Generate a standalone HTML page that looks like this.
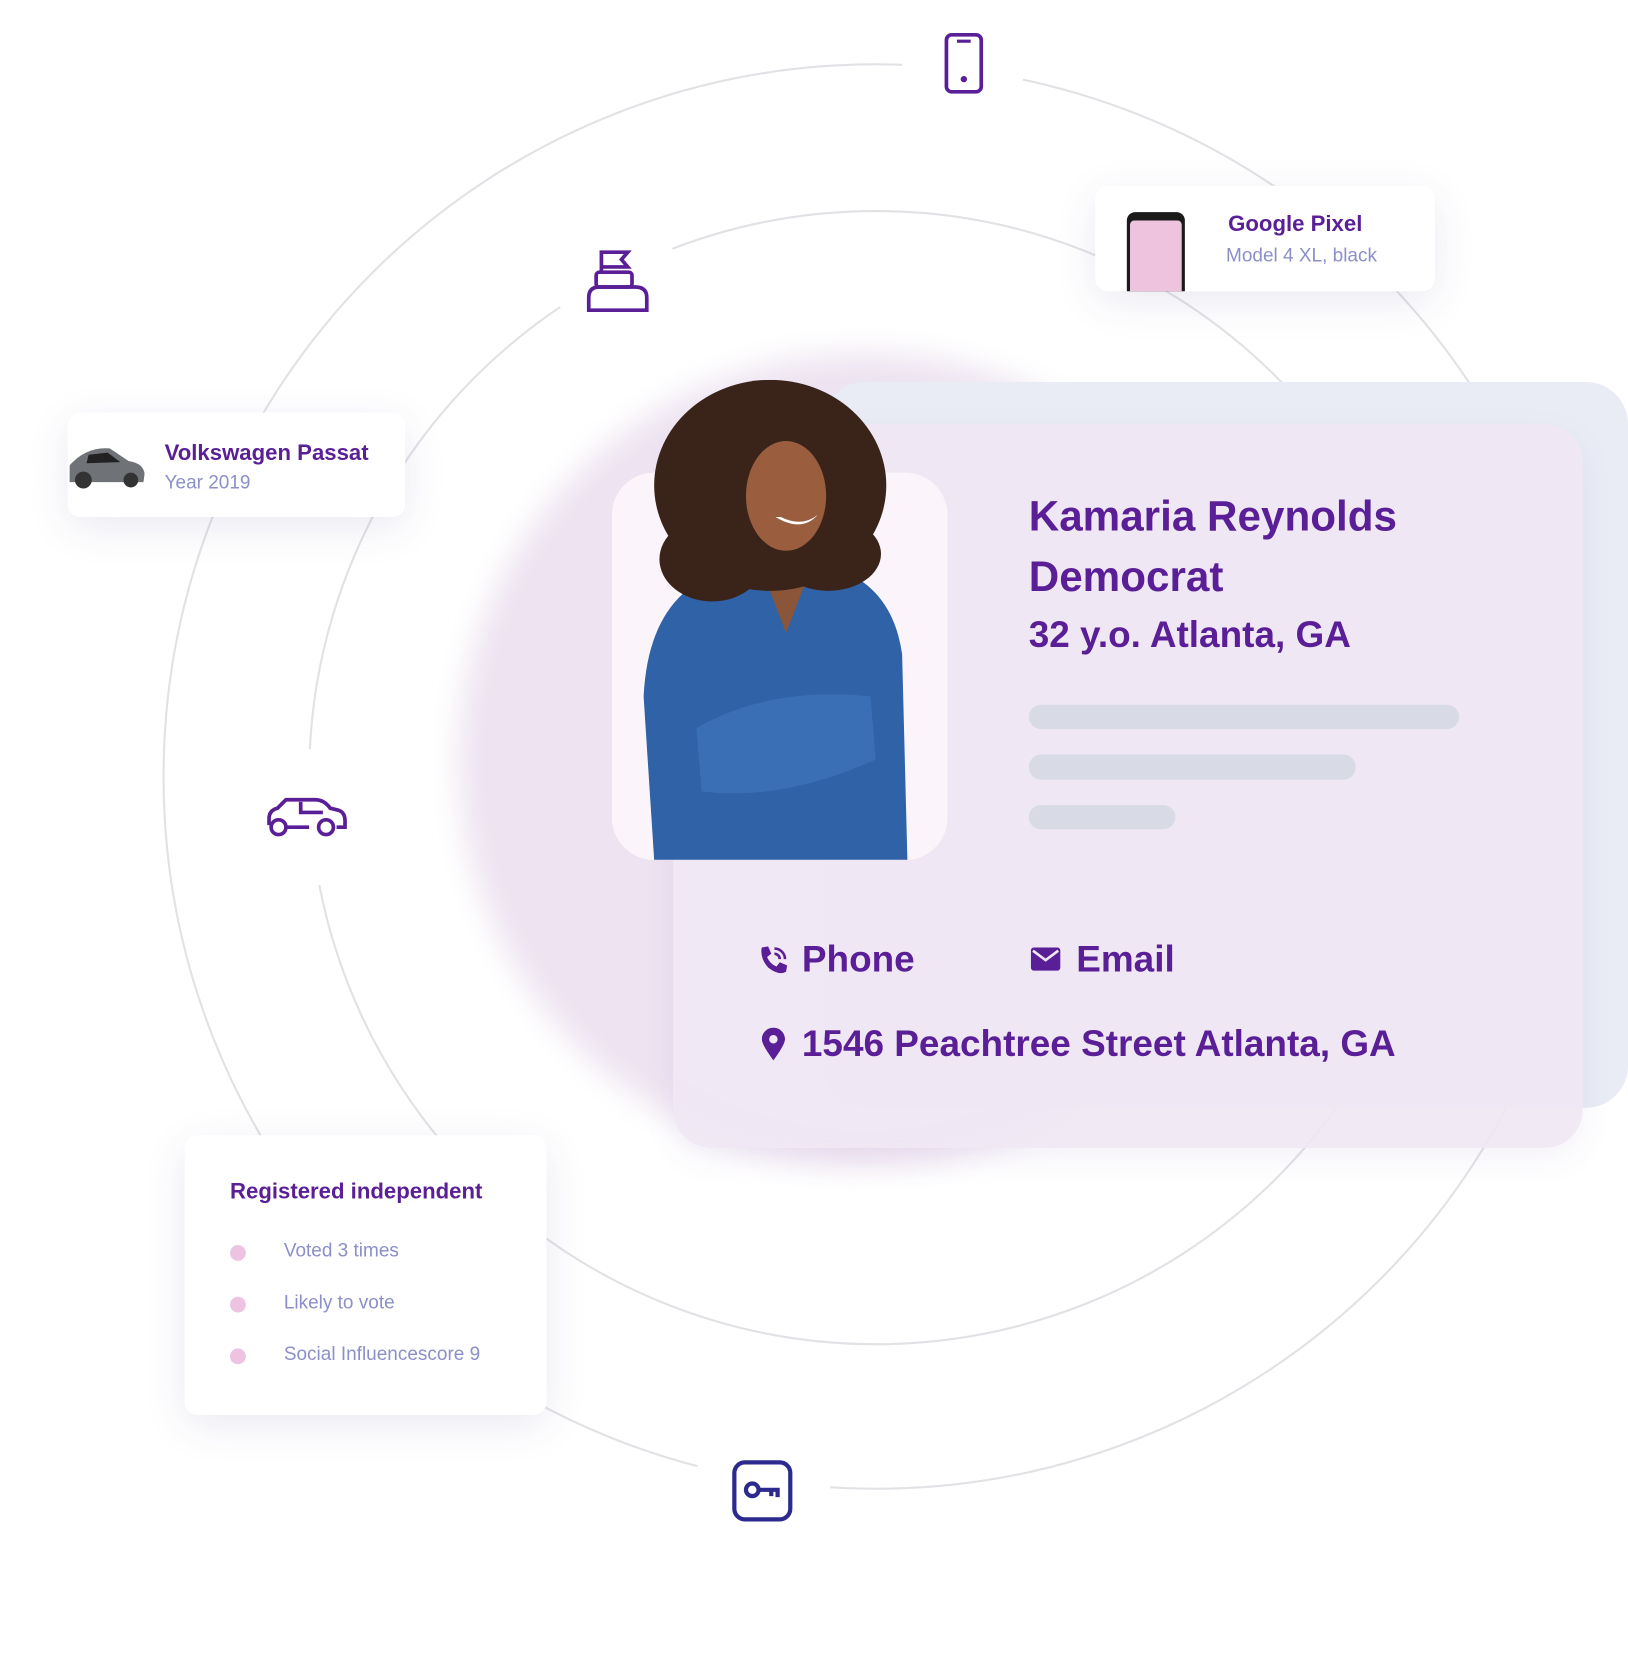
<!DOCTYPE html>
<html><head><meta charset="utf-8"><style>
html,body{margin:0;padding:0;background:#fff;width:1628px;height:1654px;overflow:hidden}
#w{position:absolute;left:0;top:0;width:1543px;height:1568px;transform:scale(1.0551);transform-origin:0 0;font-family:"Liberation Sans",sans-serif}
.abs{position:absolute}
.card{position:absolute;background:#fff;border-radius:12px;box-shadow:0 10px 40px rgba(60,40,120,0.10)}
.pt{color:#5a1e96;font-weight:bold}
.sub{color:#8c8fc8}
</style></head><body><div id="w">
<svg class="abs" style="left:0;top:0" width="1543" height="1568">
<defs><filter id="bl"><feGaussianBlur stdDeviation="14"/></filter></defs>
<circle cx="830" cy="736" r="675" fill="none" stroke="#e2e2e6" stroke-width="2"/>
<circle cx="830" cy="737" r="537" fill="none" stroke="#e2e2e6" stroke-width="2"/>
<circle cx="820" cy="720" r="385" fill="#ede3f1" filter="url(#bl)"/>
<circle cx="913" cy="62" r="58" fill="#fff"/>
<circle cx="585" cy="265" r="60" fill="#fff"/>
<circle cx="290" cy="775" r="65" fill="#fff"/>
<circle cx="722" cy="1412" r="65" fill="#fff"/>
</svg>
<div class="abs" style="left:780px;top:362px;width:763px;height:688px;background:#e9ecf5;border-radius:40px"></div>
<div class="abs" style="left:638px;top:402px;width:862px;height:686px;background:rgba(239,232,244,0.9);border-radius:36px;box-shadow:0 10px 30px rgba(120,80,160,0.08)"></div>
<div class="abs" style="left:580px;top:448px;width:318px;height:367px;background:#fbf5fb;border-radius:40px;overflow:hidden"></div>
<svg class="abs" style="left:580px;top:360px" width="300" height="455">
<path d="M40 455 L30 300 Q35 200 110 180 L200 175 Q265 190 275 260 L280 455 Z" fill="#2f62a6"/>
<path d="M80 330 Q150 290 245 300 L250 360 Q160 400 85 390 Z" fill="#3a6fb5"/>
<path d="M140 175 L165 240 L190 175 Z" fill="#8a5538"/>
<ellipse cx="150" cy="100" rx="110" ry="100" fill="#3a2419"/>
<ellipse cx="95" cy="170" rx="50" ry="40" fill="#3a2419"/>
<ellipse cx="205" cy="165" rx="50" ry="35" fill="#3a2419"/>
<ellipse cx="165" cy="110" rx="38" ry="52" fill="#9a5e3e"/>
<path d="M155 130 Q180 145 195 128 Q180 140 160 130Z" fill="#fff"/>
</svg>
<div class="abs pt" style="left:975px;top:462px;font-size:40px;line-height:57px">Kamaria Reynolds<br>Democrat</div>
<div class="abs pt" style="left:975px;top:582px;font-size:35px">32 y.o. Atlanta, GA</div>
<div class="abs" style="left:975px;top:668px;width:408px;height:23px;background:#d8dbe6;border-radius:12px"></div>
<div class="abs" style="left:975px;top:715px;width:310px;height:24px;background:#d8dbe6;border-radius:12px"></div>
<div class="abs" style="left:975px;top:763px;width:139px;height:23px;background:#d8dbe6;border-radius:12px"></div>
<svg class="abs" style="left:718px;top:895px" width="30" height="30"><path d="M4 3 L10 2 L13 9 L9 12 Q12 19 18 21 L21 17 L28 20 L27 26 Q20 30 10 22 Q2 13 4 3Z" fill="#5a1e96"/><path d="M16 4 A10 10 0 0 1 26 14 M16 9 A5 5 0 0 1 21 14" stroke="#5a1e96" stroke-width="2.5" fill="none"/></svg>
<div class="abs pt" style="left:760px;top:890px;font-size:35px">Phone</div>
<svg class="abs" style="left:977px;top:898px" width="28" height="22"><rect x="0" y="0" width="28" height="22" rx="3" fill="#5a1e96"/><path d="M2 3 L14 12 L26 3" stroke="#efe8f4" stroke-width="2.5" fill="none"/></svg>
<div class="abs pt" style="left:1020px;top:890px;font-size:35px">Email</div>
<svg class="abs" style="left:722px;top:974px" width="22" height="32"><path d="M11 31 Q0 16 0 11 A11 11 0 0 1 22 11 Q22 16 11 31Z" fill="#5a1e96"/><circle cx="11" cy="11" r="4" fill="#efe8f4"/></svg>
<div class="abs pt" style="left:760px;top:970px;font-size:35px">1546 Peachtree Street Atlanta, GA</div>

<div class="card" style="left:1038px;top:176px;width:322px;height:100px;overflow:hidden">
<div class="abs" style="left:30px;top:25px;width:55px;height:90px;background:#1a1a1a;border-radius:8px"><div class="abs" style="left:3px;top:8px;width:49px;height:80px;background:#eec3de;border-radius:4px"></div></div>
<div class="abs pt" style="left:126px;top:25px;font-size:21px">Google Pixel</div>
<div class="abs sub" style="left:124px;top:56px;font-size:18px">Model 4 XL, black</div></div>

<div class="card" style="left:64px;top:391px;width:320px;height:99px">
<svg class="abs" style="left:0;top:28px" width="75" height="45"><path d="M2 22 Q18 4 40 6 L58 18 Q72 20 73 30 L72 38 L2 38Z" fill="#6f7276"/><circle cx="15" cy="36" r="8" fill="#333"/><circle cx="60" cy="36" r="7" fill="#333"/><path d="M20 12 L38 10 L50 19 L18 20Z" fill="#222"/></svg>
<div class="abs pt" style="left:92px;top:27px;font-size:21px">Volkswagen Passat</div>
<div class="abs sub" style="left:92px;top:56px;font-size:18px">Year 2019</div></div>

<div class="card" style="left:175px;top:1076px;width:343px;height:265px">
<div class="abs pt" style="left:43px;top:42px;font-size:21px">Registered independent</div>
<div class="abs" style="left:43px;top:104px;width:15px;height:15px;border-radius:50%;background:#eec3e2"></div>
<div class="abs sub" style="left:94px;top:99px;font-size:18px">Voted 3 times</div>
<div class="abs" style="left:43px;top:153px;width:15px;height:15px;border-radius:50%;background:#eec3e2"></div>
<div class="abs sub" style="left:94px;top:148px;font-size:18px">Likely to vote</div>
<div class="abs" style="left:43px;top:202px;width:15px;height:15px;border-radius:50%;background:#eec3e2"></div>
<div class="abs sub" style="left:94px;top:197px;font-size:18px">Social Influencescore 9</div></div>

<svg class="abs" style="left:895px;top:31px" width="38" height="58"><rect x="2" y="2" width="33" height="54" rx="5" fill="none" stroke="#5a1e96" stroke-width="3.5"/><line x1="12" y1="8" x2="25" y2="8" stroke="#5a1e96" stroke-width="3"/><circle cx="18.5" cy="44" r="3" fill="#5a1e96"/></svg>
<svg class="abs" style="left:555px;top:236px" width="62" height="62"><path d="M15 3 L40 3 L34 10 L40 17 L15 17Z M15 3 V22" fill="none" stroke="#5a1e96" stroke-width="3.5"/><rect x="10" y="22" width="34" height="14" rx="3" fill="none" stroke="#5a1e96" stroke-width="3.5"/><path d="M3 58 V46 Q3 36 13 36 H47 Q58 36 58 46 V58Z" fill="none" stroke="#5a1e96" stroke-width="3.5"/></svg>
<svg class="abs" style="left:251px;top:754px" width="80" height="42"><path d="M4 28 V22 Q4 14 12 12 L20 4 H48 Q56 4 62 12 L70 14 Q76 16 76 24 V30 H68 M42 30 H20" fill="none" stroke="#5a1e96" stroke-width="3.5"/><circle cx="13" cy="30" r="7" fill="none" stroke="#5a1e96" stroke-width="3.5"/><circle cx="58" cy="30" r="7" fill="none" stroke="#5a1e96" stroke-width="3.5"/><path d="M34 6 V16 H55" fill="none" stroke="#5a1e96" stroke-width="3.5"/></svg>
<svg class="abs" style="left:693px;top:1383px" width="60" height="60"><rect x="3" y="3" width="53" height="54" rx="10" fill="none" stroke="#2c2a8e" stroke-width="4"/><circle cx="20" cy="29" r="6" fill="none" stroke="#2c2a8e" stroke-width="4"/><path d="M26 29 H44 V36 M38 29 V35" fill="none" stroke="#2c2a8e" stroke-width="4"/></svg>
</div></body></html>
